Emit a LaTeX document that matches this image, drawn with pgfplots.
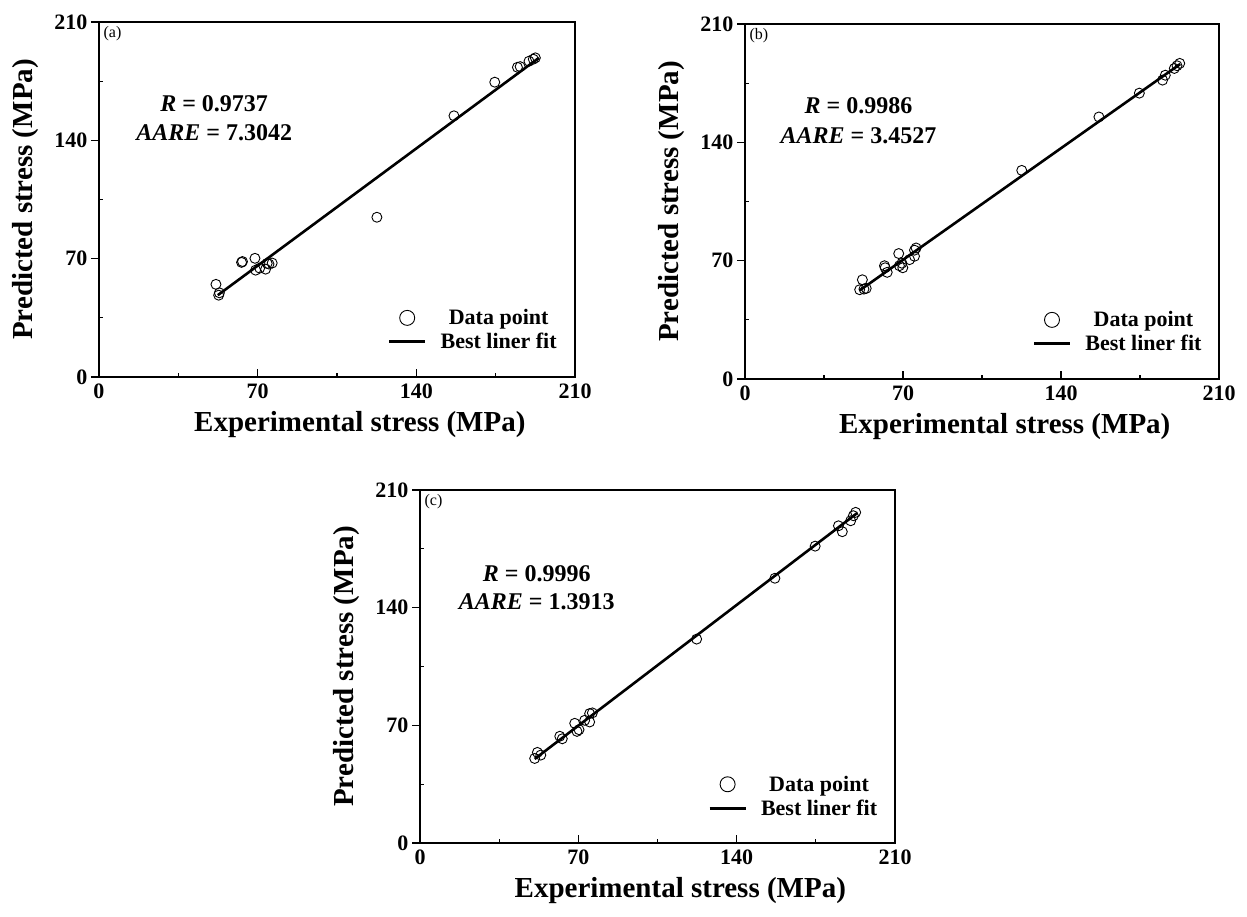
\documentclass[border=0pt]{standalone}
\usepackage{fontspec}
\setmainfont{Liberation Serif}
\usepackage{pgfplots}
\pgfplotsset{compat=1.18}
\pgfplotsset{
  panel/.style={
    scale only axis,
    anchor=south west,
    xmin=0,xmax=210,ymin=0,ymax=210,
    xtick={0,70,140,210}, ytick={0,70,140,210},
    minor tick num=1,
    tick pos=left,
    xtick align=inside, ytick align=outside,
    major tick length=8pt, minor tick length=4pt,
    minor y tick style={xshift=4pt},
    axis line style={line width=1.2pt},
    tick style={black, line width=1.2pt},
    /pgf/number format/assume math mode=true,
    ticklabel style={font=\fontsize{22}{22}\selectfont\bfseries},
    xticklabel style={yshift=-3pt},
    label style={font=\fontsize{29}{30}\selectfont\bfseries},
    xlabel={Experimental stress (MPa)},
    ylabel={Predicted stress (MPa)},
    xlabel style={at={(axis description cs:0.548,-0.135)},anchor=center},
    ylabel style={at={(axis description cs:-0.155,0.5)},anchor=center},
    legend style={draw=none, fill=none,
      font=\fontsize{22}{22}\selectfont\bfseries,
      at={(axis description cs:0.6,0.202)}, anchor=north west,
      /tikz/every odd column/.append style={column sep=12pt},
      row sep=3pt},
    legend cell align=center,
  },
  pts/.style={only marks, mark=o, mark size=5pt, mark options={line width=0.9pt, black}, forget plot},
  fit/.style={black, line width=2.6pt, forget plot, no marks},
}
\newcommand{\mylegend}{%
  \addlegendimage{legend image code/.code={\draw[black,line width=0.9pt] (18pt,0pt) circle (7.5pt);}}
  \addlegendentry{Data point}
  \addlegendimage{legend image code/.code={\draw[black,line width=2.8pt] (0pt,0pt) -- (36pt,0pt);}}
  \addlegendentry{Best liner fit}
}
\begin{document}
\begin{tikzpicture}
\useasboundingbox (0,0) rectangle (1247pt,916pt);
% ---------------- (a)
\begin{axis}[panel, at={(99pt,539pt)}, width=476pt, height=355pt]
\addplot[fit] coordinates {(52.4,48.4) (194.1,188.8)};
\addplot[pts] coordinates {
(51.6,54.8) (53.1,49.8) (52.8,48.4) (62.9,67.8) (63.3,68.3) (68.8,70.2)
(69.1,63.2) (70.9,64.4) (73.5,63.8) (75.0,66.8) (76.4,67.4) (74.2,67.2)
(122.6,94.5) (156.6,154.5) (174.6,174.4) (184.6,183.2) (185.8,183.6)
(189.7,186.8) (191.6,188.0) (192.5,188.8)};
\mylegend
\node[font=\fontsize{24}{24}\selectfont\bfseries] at (axis cs:50.8,161.5) {\textit{R} = 0.9737};
\node[font=\fontsize{24}{24}\selectfont\bfseries] at (axis cs:50.8,144.7) {\textit{AARE} = 7.3042};
\node[anchor=north west, font=\fontsize{16}{16}\selectfont, inner sep=2pt] at (axis description cs:0.005,0.995) {(a)};
\end{axis}
% ---------------- (b)
\begin{axis}[panel, at={(745pt,537pt)}, width=474pt, height=355pt]
\addplot[fit] coordinates {(50.8,52.4) (192.8,186.3)};
\addplot[pts] coordinates {
(52.0,58.7) (50.8,52.8) (52.7,53.2) (53.7,53.6) (61.8,67.0) (62.1,65.8)
(63.0,63.1) (68.1,74.2) (68.4,67.0) (69.9,65.8) (69.5,68.5) (72.9,70.6)
(75.1,72.6) (75.8,77.5) (75.1,76.2) (122.6,123.4) (156.8,155.0)
(174.7,169.1) (185.0,176.8) (186.2,179.7) (190.2,183.7) (191.4,185.3) (192.6,186.7)};
\mylegend
\node[font=\fontsize{24}{24}\selectfont\bfseries] at (axis cs:50.3,161.4) {\textit{R} = 0.9986};
\node[font=\fontsize{24}{24}\selectfont\bfseries] at (axis cs:50.3,144.1) {\textit{AARE} = 3.4527};
\node[anchor=north west, font=\fontsize{16}{16}\selectfont, inner sep=2pt] at (axis description cs:0.005,0.995) {(b)};
\end{axis}
% ---------------- (c)
\begin{axis}[panel, at={(420pt,73pt)}, width=475pt, height=353pt]
\addplot[fit] coordinates {(50.7,50.0) (193.3,196.3)};
\addplot[pts] coordinates {
(50.7,50.3) (51.9,53.9) (53.4,52.3) (61.8,63.5) (62.9,62.0) (68.4,71.2)
(69.4,66.4) (70.3,67.4) (72.8,73.0) (75.0,72.0) (75.0,77.0) (76.2,77.4)
(122.3,121.3) (156.9,157.5) (174.7,176.6) (185.0,188.7) (186.7,185.2)
(190.4,191.7) (191.6,194.7) (192.6,196.7)};
\mylegend
\node[font=\fontsize{24}{24}\selectfont\bfseries] at (axis cs:51.6,160.5) {\textit{R} = 0.9996};
\node[font=\fontsize{24}{24}\selectfont\bfseries] at (axis cs:51.6,143.6) {\textit{AARE} = 1.3913};
\node[anchor=north west, font=\fontsize{16}{16}\selectfont, inner sep=2pt] at (axis description cs:0.005,0.995) {(c)};
\end{axis}
\end{tikzpicture}
\end{document}
